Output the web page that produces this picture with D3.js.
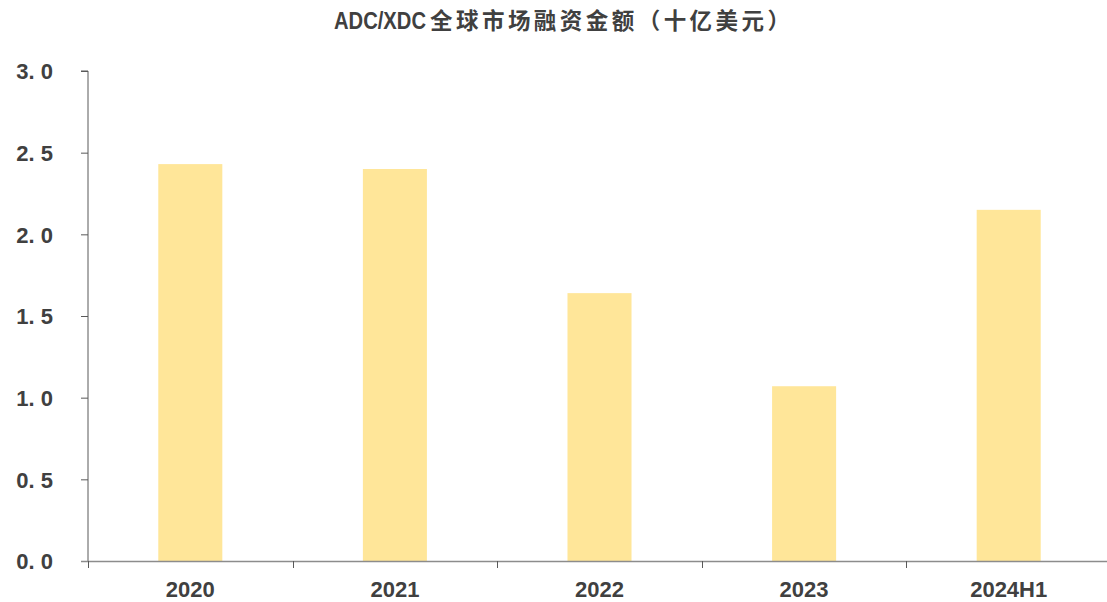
<!DOCTYPE html>
<html><head><meta charset="utf-8">
<script src="https://cdn.jsdelivr.net/npm/d3@7"></script>
<style>body{margin:0;background:#fff}</style>
</head><body><svg id="c" width="1107" height="602"></svg>
<script>
const categories = ["2020","2021","2022","2023","2024H1"];
const values = [2.43, 2.40, 1.64, 1.07, 2.15];
const yTicks = [0, 0.5, 1.0, 1.5, 2.0, 2.5, 3.0];
const titleLatin = "ADC/XDC";
const titleCJK = "全球市场融资金额（十亿美元）";

const svg = d3.select("#c");
const cjk = "'Noto Sans CJK SC','DejaVu Sans',sans-serif";
const lat = "'Liberation Sans','Arial',sans-serif";
const x0 = 88, x1 = 1111, yBottom = 561, yTop = 71;
const x = d3.scaleBand().domain(categories).range([x0, x1]).paddingInner(0.687).paddingOuter(0.3435);
const y = d3.scaleLinear().domain([0, 3]).range([yBottom, yTop]);

const t = svg.append("text").attr("y", 29).attr("fill","#404040").attr("font-weight","bold");
t.append("tspan").attr("x",334).attr("font-family",lat).attr("font-size",23)
  .attr("textLength",92).attr("lengthAdjust","spacingAndGlyphs").text(titleLatin);
t.append("tspan").attr("x",430).attr("font-family",cjk).attr("font-size",22.5)
  .attr("textLength",360).attr("lengthAdjust","spacing").text(titleCJK);

svg.selectAll("rect.bar").data(values).join("rect").attr("class","bar")
  .attr("x",(d,i)=>x(categories[i])).attr("width",x.bandwidth())
  .attr("y",d=>y(d)).attr("height",d=>yBottom-y(d)).attr("fill","#FFE699");

// y axis
const yAxis = d3.axisLeft(y).tickValues(yTicks).tickSize(7).tickFormat(d=>d.toFixed(1).replace(".", ". "));
const gy = svg.append("g").attr("transform",`translate(${x0},0)`).call(yAxis);
gy.select(".domain").attr("stroke","#595959").attr("d",`M-7,${yTop}H0V${yBottom}`);
gy.selectAll(".tick line").attr("stroke","#595959");
gy.selectAll(".tick text").attr("font-family",lat).attr("font-weight","bold").attr("font-size",22)
  .attr("fill","#404040").attr("x",-35).attr("dy","0.36em");

// x axis
const gx = svg.append("g");
gx.append("line").attr("x1",x0-7).attr("x2",1107).attr("y1",yBottom+0.5).attr("y2",yBottom+0.5).attr("stroke","#8c8c8c").attr("stroke-width",1.5);
const bounds = categories.map(c=>x(c)-x.step()*x.paddingInner()/2);
gx.selectAll("line.t").data(bounds).join("line").attr("class","t")
  .attr("x1",d=>Math.round(d)+0.5).attr("x2",d=>Math.round(d)+0.5).attr("y1",yBottom).attr("y2",yBottom+7).attr("stroke","#595959");
gx.selectAll("text").data(categories).join("text")
  .attr("x",d=>x(d)+x.bandwidth()/2).attr("y",597).attr("text-anchor","middle")
  .attr("font-family",lat).attr("font-weight","bold").attr("font-size",22).attr("fill","#404040").text(d=>d);
</script></body></html>
